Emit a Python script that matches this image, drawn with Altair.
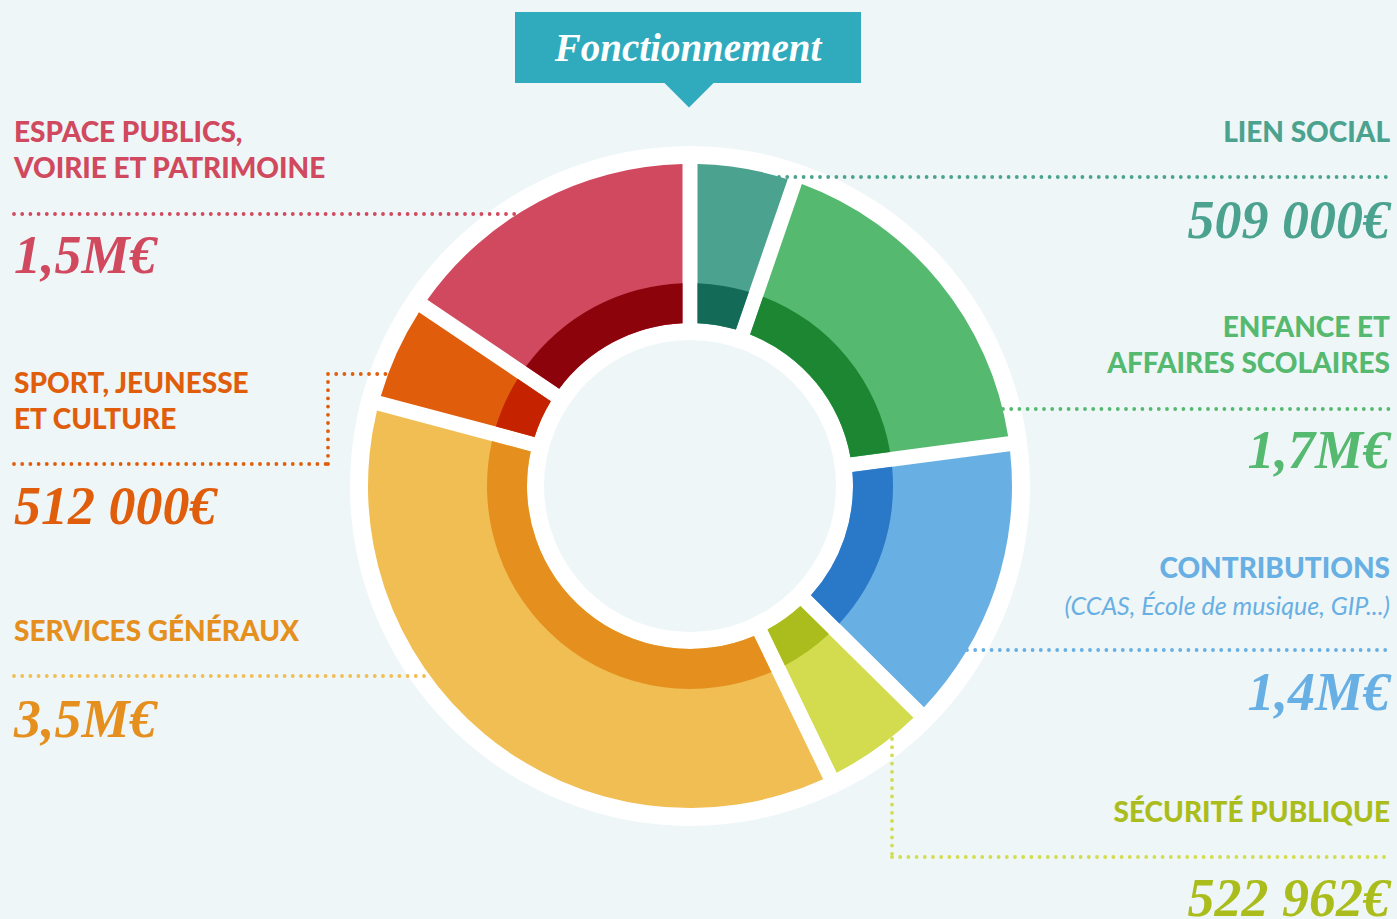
import math
import altair as alt
import pandas as pd

# ---------------- data ----------------
categories = [
    "Lien social",
    "Enfance et affaires scolaires",
    "Contributions",
    "Sécurité publique",
    "Services généraux",
    "Sport, jeunesse et culture",
    "Espace publics, voirie et patrimoine",
]
amounts = [509000, 1700000, 1400000, 522962, 3500000, 512000, 1500000]
amount_labels = ["509 000€", "1,7M€", "1,4M€", "522 962€", "3,5M€", "512 000€", "1,5M€"]
heading_lines = [
    ["LIEN SOCIAL"],
    ["ENFANCE ET", "AFFAIRES SCOLAIRES"],
    ["CONTRIBUTIONS"],
    ["SÉCURITÉ PUBLIQUE"],
    ["SERVICES GÉNÉRAUX"],
    ["SPORT, JEUNESSE", "ET CULTURE"],
    ["ESPACE PUBLICS,", "VOIRIE ET PATRIMOINE"],
]
subtitle = "(CCAS, École de musique, GIP...)"
title = "Fonctionnement"

light_colors = ["#4BA28F", "#55B96F", "#68AFE3", "#D2DC4E", "#F0BE52", "#E05E0B", "#D1495E"]
dark_colors = ["#136A56", "#1D8632", "#2A78C8", "#ABBD1C", "#E5901E", "#C52300", "#8C030C"]
text_colors = ["#4BA28F", "#55B96F", "#68AFE3", "#ABBD1C", "#E5901E", "#E05E0B", "#D1495E"]
dot_colors = ["#4BA28F", "#55B96F", "#68AFE3", "#D2DC4E", "#F0BE52", "#E05E0B", "#D1495E"]

# ---------------- layout ----------------
W, H = 1397, 919
CX, CY = 690, 486
R_HOLE, R_WHITE = 146, 340
R_IN, R_MID, R_OUT = 163, 203, 322
GAP = 15
BG = "#EEF6F8"
BANNER = "#2FABBD"

side = ["right", "right", "right", "right", "left", "left", "left"]
heading_y = [[142], [337, 373], [578], [822], [641], [393, 429], [142, 178]]
amount_y = [238, 468, 710, 916, 737, 524, 273]
subtitle_y = 615
LEFT_X, RIGHT_X = 14, 1390
leaders = [
    [(779, 177, 1390, 177)],
    [(1003, 409, 1390, 409)],
    [(967, 650, 1390, 650)],
    [(892, 739, 892, 857), (892, 857, 1390, 857)],
    [(14, 676, 430, 676)],
    [(14, 464, 328, 464), (328, 464, 328, 374), (328, 374, 388, 374)],
    [(14, 214, 518, 214)],
]


def pad_for(r0, r1):
    rp = math.sqrt(r0 * r0 + r1 * r1)
    return 2 * math.asin((GAP / 2) / rp)


arc_df = pd.DataFrame({
    "cat": categories,
    "amount": amounts,
    "idx": list(range(len(categories))),
    "light": light_colors,
    "dark": dark_colors,
})

rows = []
for i, segs in enumerate(leaders):
    for (x1, y1, x2, y2) in segs:
        rows.append({"x": x1, "y": y1, "x2": x2, "y2": y2, "c": dot_colors[i]})
rule_df = pd.DataFrame(rows)

head_rows, amt_rows = [], []
for i in range(len(categories)):
    for line, yy in zip(heading_lines[i], heading_y[i]):
        head_rows.append({"t": line, "y": yy, "c": text_colors[i], "s": side[i],
                          "x": RIGHT_X if side[i] == "right" else LEFT_X})
    amt_rows.append({"t": amount_labels[i], "y": amount_y[i], "c": text_colors[i], "s": side[i],
                     "x": RIGHT_X if side[i] == "right" else LEFT_X})
head_df = pd.DataFrame(head_rows)
amt_df = pd.DataFrame(amt_rows)

ident = dict(scale=None, axis=None)

white_disk = alt.Chart(arc_df.head(1)).mark_arc(
    innerRadius=R_HOLE, outerRadius=R_WHITE, theta=0, theta2=2 * math.pi, color="white"
).encode(x=alt.value(CX), y=alt.value(CY))

rules = alt.Chart(rule_df).mark_rule(
    strokeDash=[0, 8.2], strokeCap="round", strokeWidth=3.8
).encode(
    x=alt.X("x:Q", **ident), y=alt.Y("y:Q", **ident),
    x2="x2:Q", y2="y2:Q",
    color=alt.Color("c:N", scale=None),
)

light = alt.Chart(arc_df).mark_arc(
    innerRadius=R_IN, outerRadius=R_OUT, padAngle=pad_for(R_IN, R_OUT)
).encode(
    theta=alt.Theta("amount:Q", stack=True),
    order=alt.Order("idx:Q"),
    color=alt.Color("light:N", scale=None),
    x=alt.value(CX), y=alt.value(CY),
)

dark = alt.Chart(arc_df).mark_arc(
    innerRadius=R_IN, outerRadius=R_MID, padAngle=pad_for(R_IN, R_MID)
).encode(
    theta=alt.Theta("amount:Q", stack=True),
    order=alt.Order("idx:Q"),
    color=alt.Color("dark:N", scale=None),
    x=alt.value(CX), y=alt.value(CY),
)

head_font = dict(font="Lato", fontWeight=900, fontSize=28, baseline="alphabetic")
amt_font = dict(font="Liberation Serif", fontWeight="bold", fontStyle="italic", fontSize=54, baseline="alphabetic")

text_layers = []
for s, al in (("left", "left"), ("right", "right")):
    text_layers.append(
        alt.Chart(head_df[head_df.s == s]).mark_text(align=al, **head_font).encode(
            x=alt.X("x:Q", **ident), y=alt.Y("y:Q", **ident), text="t:N",
            color=alt.Color("c:N", scale=None))
    )
    text_layers.append(
        alt.Chart(amt_df[amt_df.s == s]).mark_text(align=al, **amt_font).encode(
            x=alt.X("x:Q", **ident), y=alt.Y("y:Q", **ident), text="t:N",
            color=alt.Color("c:N", scale=None))
    )

sub = alt.Chart(arc_df.head(1)).mark_text(
    text=subtitle, align="right", baseline="alphabetic", font="Lato", fontStyle="italic",
    fontWeight="normal", fontSize=25, color=text_colors[2]
).encode(x=alt.value(RIGHT_X), y=alt.value(subtitle_y))

banner = alt.Chart(arc_df.head(1)).mark_rect(color=BANNER).encode(
    x=alt.value(515), x2=alt.value(861), y=alt.value(12), y2=alt.value(83))
pointer = alt.Chart(arc_df.head(1)).mark_point(
    shape="M-1,-0.5L1,-0.5L0,0.5Z", size=2500, filled=True, opacity=1, color=BANNER, strokeWidth=0
).encode(x=alt.value(689), y=alt.value(95))
title_txt = alt.Chart(arc_df.head(1)).mark_text(
    text=title, align="center", baseline="alphabetic", font="Liberation Serif",
    fontWeight="bold", fontStyle="italic", fontSize=39, color="white"
).encode(x=alt.value(688), y=alt.value(61))

chart = alt.layer(
    white_disk, rules, light, dark, *text_layers, sub, banner, pointer, title_txt
).properties(
    width=W, height=H, padding=0, autosize="none", background=BG
).configure_view(stroke=None)

chart.save("out.html", embed_options={"renderer": "svg", "actions": False})
